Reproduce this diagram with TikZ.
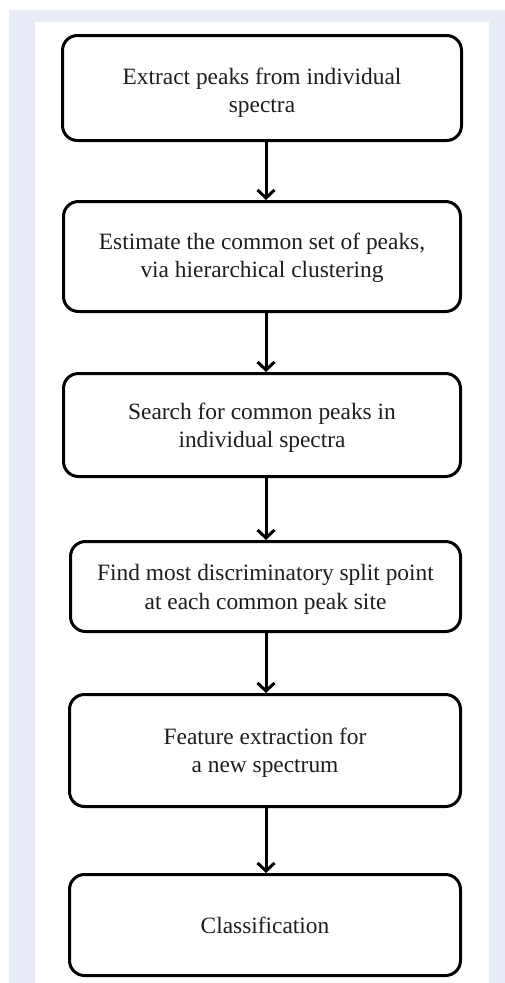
\documentclass[tikz,border=0pt]{standalone}
\usepackage{fontspec}
\setmainfont{Liberation Serif}
\usetikzlibrary{arrows.meta}
\definecolor{bgblue}{HTML}{E7EBF5}
\definecolor{txt}{HTML}{1E1E1E}
\newcommand\mylowtext[2]{\raisebox{0pt}[\dimexpr\height+#1\relax][\depth]{\begin{tabular}{@{}c@{}}#2\end{tabular}}}
\begin{document}
\begin{tikzpicture}[x=1pt,y=-1pt,
  stepbox/.style={draw=black, line width=3pt, rounded corners=15pt, fill=white,
    align=center, text=txt, font=\fontsize{23.4}{28.5}\selectfont, inner sep=0pt},
  arr/.style={line width=3pt, -{Straight Barb[length=8pt,width=17pt]}}]
\useasboundingbox (0,0) rectangle (505,983);
\fill[white] (0,0) rectangle (505,983);
\fill[bgblue] (9,10) rectangle (505,983);
\fill[white] (35,22) rectangle (489,983);
\coordinate (ax) at (266,0);
\node[stepbox, minimum width=399pt, minimum height=105pt] (b1) at (262,88)
  {\mylowtext{10pt}{Extract peaks from individual\\spectra}};
\node[stepbox, minimum width=397pt, minimum height=110pt] (b2) at (262,256.5)
  {\mylowtext{3pt}{Estimate the common set of peaks,\\via hierarchical clustering}};
\node[stepbox, minimum width=397pt, minimum height=103pt] (b3) at (262,425)
  {\mylowtext{6pt}{Search for common peaks in\\individual spectra}};
\node[stepbox, minimum width=390pt, minimum height=90pt] (b4) at (265.5,586.5)
  {\mylowtext{6pt}{Find most discriminatory split point\\at each common peak site}};
\node[stepbox, minimum width=391pt, minimum height=112pt] (b5) at (265,750.5)
  {\mylowtext{5pt}{Feature extraction for\\a new spectrum}};
\node[stepbox, minimum width=391pt, minimum height=101pt] (b6) at (265,925)
  {Classification};
\draw[arr] (b1.south -| ax) -- (b2.north -| ax);
\draw[arr] (b2.south -| ax) -- (b3.north -| ax);
\draw[arr] (b3.south -| ax) -- (b4.north -| ax);
\draw[arr] (b4.south -| ax) -- (b5.north -| ax);
\draw[arr] (b5.south -| ax) -- (b6.north -| ax);
\end{tikzpicture}
\end{document}
